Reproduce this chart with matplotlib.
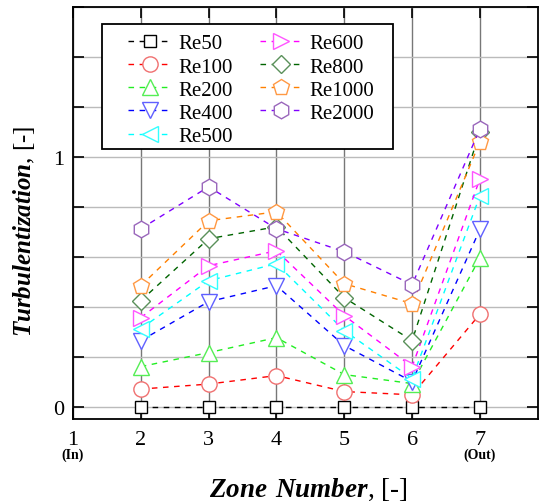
import matplotlib
matplotlib.use('Agg')
from matplotlib import pyplot as plt
from matplotlib.patches import Rectangle
from matplotlib.ticker import MultipleLocator

plt.rcParams['font.family'] = ['Liberation Serif', 'DejaVu Serif']
plt.rcParams['mathtext.fontset'] = 'custom'
plt.rcParams['mathtext.bfit'] = 'Liberation Serif:bold:italic'
plt.rcParams['mathtext.rm'] = 'Liberation Serif'

zones = [2, 3, 4, 5, 6, 7]
labels = ['Re50', 'Re100', 'Re200', 'Re400', 'Re500',
          'Re600', 'Re800', 'Re1000', 'Re2000']
re50 = [0.0, 0.0, 0.0, 0.0, 0.0, 0.0]
re100 = [0.07, 0.09, 0.124, 0.06, 0.047, 0.37]
re200 = [0.16, 0.216, 0.276, 0.128, 0.092, 0.596]
re400 = [0.264, 0.42, 0.484, 0.244, 0.10, 0.71]
re500 = [0.312, 0.504, 0.572, 0.304, 0.112, 0.844]
re600 = [0.356, 0.564, 0.624, 0.364, 0.16, 0.912]
re800 = [0.424, 0.672, 0.72, 0.436, 0.264, 1.10]
re1000 = [0.484, 0.744, 0.78, 0.492, 0.412, 1.06]
re2000 = [0.712, 0.88, 0.712, 0.62, 0.488, 1.112]
series = [re50, re100, re200, re400, re500, re600, re800, re1000, re2000]

line_colors = ['black', '#ff0000', '#22ee22', '#0000ff', '#00ffff',
               '#ff00ff', '#006400', '#ff8000', '#8000ff']
marker_colors = ['black', '#f07070', '#55ee55', '#6060ff', '#33ffff',
                 '#ff55ff', '#5a905a', '#ff9944', '#9966bb']
markers = ['s', 'o', '^', 'v', '<', '>', 'D', 'p', 'h']
msizes = [9, 11, 12, 12, 12, 12, 9, 12, 12]

fig = plt.figure(figsize=(5.39, 5.02), dpi=100)
ax = fig.add_axes([0.1354, 0.1633, 0.862, 0.8207])

for ys, lab, lc, mc, mk, ms in zip(series, labels, line_colors, marker_colors, markers, msizes):
    ax.plot(zones, ys, linestyle=(0, (4, 4)), linewidth=1.0, color=lc,
            marker=mk, markersize=ms, markerfacecolor='white',
            markeredgecolor=mc, markeredgewidth=1.0, label=lab)

ax.set_xlim(1, 7.85)
ax.set_ylim(-0.05, 1.6)
ax.set_xticks([1, 2, 3, 4, 5, 6, 7])
ax.set_xticklabels(['1', '2', '3', '4', '5', '6', '7'], fontsize=16)
ax.yaxis.set_major_locator(MultipleLocator(0.2))
ax.set_yticklabels(['' if abs(v - round(v)) > 1e-6 else str(int(round(v)))
                    for v in ax.get_yticks()], fontsize=16)
ax.tick_params(direction='in', length=8, width=1.2, top=True, right=True)
ax.tick_params(axis='x', pad=8)
ax.tick_params(axis='y', pad=6)
ax.grid(axis='x', color='#777777', linewidth=1.0)
ax.grid(axis='y', color='#bbbbbb', linewidth=1.0)
ax.set_axisbelow(True)
for sp in ax.spines.values():
    sp.set_linewidth(1.3)

ax.text(1, -0.19, '(In)', fontsize=10, fontweight='bold', ha='center', va='center',
        transform=ax.transData, clip_on=False)
ax.text(7, -0.19, '(Out)', fontsize=10, fontweight='bold', ha='center', va='center',
        transform=ax.transData, clip_on=False)

ax.set_xlabel(r'$\mathbfit{Zone\ Number}$, [-]', fontsize=19.5)
ax.xaxis.set_label_coords(0.506, -0.137)
ax.set_ylabel(r'$\mathbfit{Turbulentization}$, [-]', fontsize=18)
ax.yaxis.set_label_coords(-0.0775, 0.4587)

# legend frame drawn separately (wider side padding than top/bottom)
ax.add_patch(Rectangle((0.0624, 0.6553), 0.6264, 0.3034, transform=ax.transAxes,
                       facecolor='white', edgecolor='black', linewidth=1.3,
                       zorder=4.5, clip_on=False))
leg = ax.legend(ncol=2, loc='upper left', bbox_to_anchor=(0.1184, 0.935),
                fontsize=15, frameon=False, handlelength=2.1, handletextpad=0.3,
                columnspacing=1.3, labelspacing=0.17, borderpad=0, borderaxespad=0)
leg.set_zorder(5)

fig.savefig('out.png', dpi=100)
